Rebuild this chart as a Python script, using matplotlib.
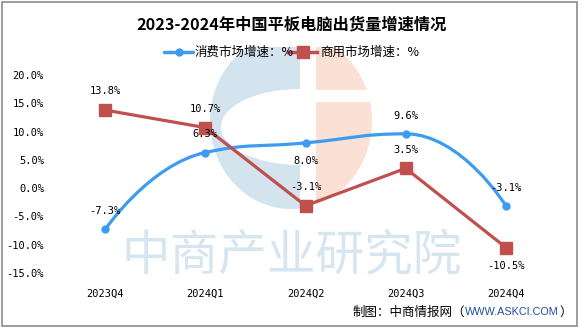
import matplotlib
matplotlib.use("Agg")
import matplotlib.pyplot as plt
import matplotlib.patches as patches
from matplotlib.path import Path
import numpy as np

plt.rcParams['font.family'] = ['Noto Sans CJK SC', 'DejaVu Sans']

title = "2023-2024年中国平板电脑出货量增速情况"
quarters = ["2023Q4", "2024Q1", "2024Q2", "2024Q3", "2024Q4"]
consumer = [-7.3, 6.3, 8.0, 9.6, -3.1]
commercial = [13.8, 10.7, -3.1, 3.5, -10.5]
consumer_name = "消费市场增速：%"
commercial_name = "商用市场增速：%"
yticks = [-15, -10, -5, 0, 5, 10, 15, 20]

BLUE = '#3d9bf0'
RED = '#c0504d'
W, H = 585, 327

fig = plt.figure(figsize=(W / 100, H / 100), dpi=100)

# background layer in pixel coords: logo, watermark, border, footer
bg = fig.add_axes([0, 0, 1, 1], zorder=0)
bg.set_xlim(0, W)
bg.set_ylim(H, 0)
bg.axis('off')

blue_half = patches.Ellipse((291, 121), 162, 176, color='#d3e4ef', lw=0)
bg.add_patch(blue_half)
blue_half.set_clip_path(patches.Rectangle((0, 47), 300, 300, transform=bg.transData))
orange_half = patches.Ellipse((291, 121), 162, 176, color='#fbe1d5', lw=0)
bg.add_patch(orange_half)
orange_half.set_clip_path(patches.Rectangle((316, 47), 300, 300, transform=bg.transData))
inner = patches.Ellipse((300, 127), 158, 76, color='white', lw=0)
bg.add_patch(inner)
inner.set_clip_path(patches.Rectangle((0, 0), 300, 327, transform=bg.transData))
bg.add_patch(patches.Rectangle((316, 90), 80, 12, color='white', lw=0))

bg.text(292, 256, "中商产业研究院", fontsize=35, color='#d6e6f0',
        ha='center', va='center')

bg.add_patch(patches.Rectangle((1.5, 1.5), 575.5, 324.5, fill=False,
                               edgecolor='#8c8c8c', lw=1.2))

bg.text(292, 24, title, fontsize=11.7, fontweight='bold', ha='center', va='center')

# footer, placed right to left so pieces do not overlap
renderer = fig.canvas.get_renderer()
x_end = 572
for txt, kw in [("）", dict(fontsize=9)),
                ("WWW.ASKCI.COM", dict(fontsize=7.8, color='#1f4f9e', family=['Liberation Sans'])),
                ("制图：中商情报网（", dict(fontsize=9))]:
    t = bg.text(x_end, 312, txt, ha='right', va='center', **kw)
    bb = t.get_window_extent(renderer)
    x_end = bg.transData.inverted().transform((bb.x0, bb.y0))[0] - 0.5

# legend drawn by hand
bg.plot([164, 193], [52, 52], color=BLUE, lw=2.5, solid_capstyle='round')
bg.plot([179], [52], 'o', color=BLUE, ms=5)
bg.text(195, 52, consumer_name, fontsize=9, va='center', ha='left')
bg.plot([288, 317], [52, 52], color=RED, lw=2.5)
bg.plot([303], [52], 's', color=RED, ms=8)
bg.text(320, 52, commercial_name, fontsize=9, va='center', ha='left')

# main plot
left, right = 55, 556
ytop, ybot = 75, 273
ax = fig.add_axes([left / W, (H - ybot) / H, (right - left) / W, (ybot - ytop) / H], zorder=1)
ax.patch.set_alpha(0)
ax.set_xlim(-0.5, len(quarters) - 0.5)
ax.set_ylim(-15, 20)
for s in ax.spines.values():
    s.set_visible(False)
ax.set_yticks(yticks)
ax.set_yticklabels([f"{v:.1f}%" for v in yticks], family=['DejaVu Sans Mono'], fontsize=7.5)
ax.set_xticks(range(len(quarters)))
ax.set_xticklabels(quarters, family=['DejaVu Sans Mono'], fontsize=7.5)
ax.tick_params(axis='both', length=0)
ax.tick_params(axis='y', pad=8)
ax.tick_params(axis='x', pad=11)

# echarts-style smooth bezier (with control point clamping) for the consumer series
sx = (right - left) / len(quarters)
sy = (ybot - ytop) / 35.0
pts = np.array([[i * sx, v * sy] for i, v in enumerate(consumer)])
smooth = 0.5
n = len(pts)
cp_out = pts.copy()
cp_in = pts.copy()
for i in range(1, n - 1):
    p, c, nx = pts[i - 1], pts[i], pts[i + 1]
    vec = nx - p
    d0 = np.hypot(*(c - p))
    d1 = np.hypot(*(nx - c))
    r = d1 / (d0 + d1)
    nc = c + vec * smooth * r
    nc = np.minimum(nc, np.maximum(nx, c))
    nc = np.maximum(nc, np.minimum(nx, c))
    v = nc - c
    pc = c - v * d0 / d1
    pc = np.minimum(pc, np.maximum(p, c))
    pc = np.maximum(pc, np.minimum(p, c))
    v = c - pc
    nc = c + v * d1 / d0
    cp_out[i] = nc
    cp_in[i] = pc
verts = [pts[0]]
codes = [Path.MOVETO]
for i in range(n - 1):
    verts += [cp_out[i], cp_in[i + 1], pts[i + 1]]
    codes += [Path.CURVE4] * 3
verts = np.array(verts) / [sx, sy]
ax.add_patch(patches.PathPatch(Path(verts, codes), fill=False, edgecolor=BLUE, lw=2.3, zorder=2))
ax.plot(range(n), consumer, 'o', color=BLUE, ms=5, zorder=3)

ax.plot(range(n), commercial, color=RED, lw=2.3, marker='s', ms=8, zorder=4)

blue_pos = [1, 1, -1, 1, 1]
red_pos = [1, 1, 1, 1, -1]
for i, (v, p) in enumerate(zip(consumer, blue_pos)):
    ax.annotate(f"{v}%", (i, v), xytext=(0, 13 * p), textcoords='offset points',
                ha='center', va='center', fontsize=7.5, family=['DejaVu Sans Mono'], zorder=5)
for i, (v, p) in enumerate(zip(commercial, red_pos)):
    ax.annotate(f"{v}%", (i, v), xytext=(0, 13.5 * p), textcoords='offset points',
                ha='center', va='center', fontsize=7.5, family=['DejaVu Sans Mono'], zorder=5)

fig.savefig("out.png", dpi=100)
